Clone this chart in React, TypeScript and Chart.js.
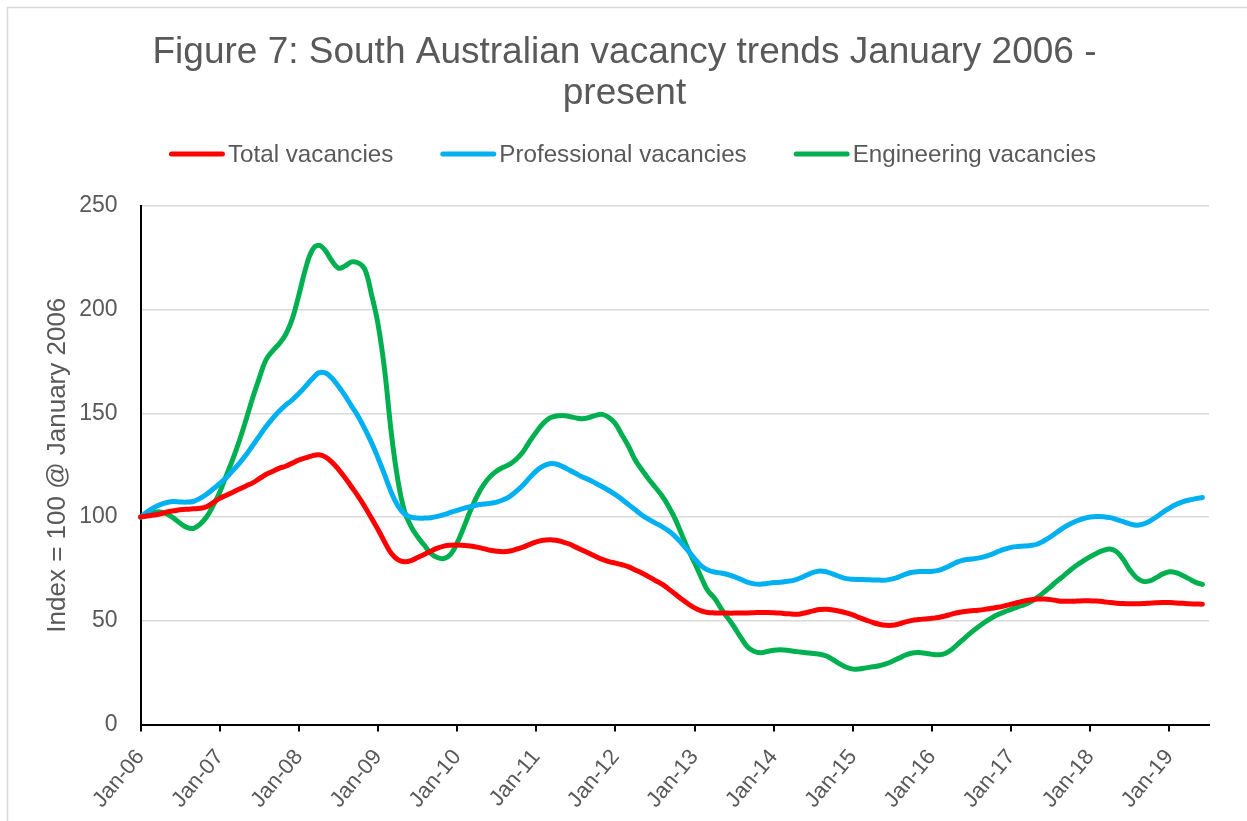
import React, { useEffect, useRef } from "react";
import { Chart, registerables } from "chart.js";

Chart.register(...registerables);

const TITLE_LINES = ["Figure 7: South Australian vacancy trends January 2006 -", "present"];
const Y_TITLE = "Index = 100 @ January 2006";
const SERIES_NAMES = ["Total vacancies", "Professional vacancies", "Engineering vacancies"];
const SERIES_COLORS = ["#FF0000", "#00B0F0", "#00B050"];

const MONTHS = ["Jan", "Feb", "Mar", "Apr", "May", "Jun", "Jul", "Aug", "Sep", "Oct", "Nov", "Dec"];
const YEARS = ["06", "07", "08", "09", "10", "11", "12", "13", "14", "15", "16", "17", "18", "19"];
// Monthly categories Jan-06 .. Jul-19 (axis runs one month past the last observation)
const CATEGORIES: string[] = [];
YEARS.forEach((yy) => MONTHS.forEach((m) => CATEGORIES.push(`${m}-${yy}`)));
CATEGORIES.splice(163);

const Y_MIN = 0;
const Y_MAX = 250;
const Y_STEP = 50;

// Monthly index values, Jan-06 .. Jun-19
const TOTAL = [
  100, 100.5, 101, 101.5, 102.5, 103, 103.5, 103.8, 104, 104.2, 105, 107,
  109, 110.5, 112, 113.5, 115, 116.5, 118.5, 120.5, 122, 123.5, 124.5, 126,
  127.5, 128.5, 129.5, 130, 129, 126.5, 123, 119, 114.5, 110, 105, 99.5,
  94, 88, 82.5, 79.5, 78.5, 79, 80.5, 82, 83.5, 85, 86, 86.4,
  86.5, 86.3, 86, 85.5, 84.8, 84, 83.5, 83.3, 83.6, 84.5, 85.5, 86.8,
  88, 88.8, 89, 88.8, 88, 87, 85.5, 84, 82.5, 81, 79.6, 78.5,
  77.8, 77, 76, 74.5, 73, 71.3, 69.5, 67.8, 65.5, 63, 60.5, 58.2,
  56.2, 54.8, 54, 53.8, 53.8, 53.7, 53.7, 53.8, 53.8, 53.9, 54, 54,
  53.9, 53.7, 53.4, 53.2, 53.3, 54, 54.8, 55.4, 55.5, 55.2, 54.6, 53.8,
  52.8, 51.5, 50.3, 49.2, 48.3, 47.8, 47.8, 48.5, 49.5, 50.2, 50.6, 50.9,
  51.2, 51.6, 52.3, 53.2, 54, 54.5, 54.8, 55.1, 55.5, 56, 56.5, 57.2,
  58, 58.8, 59.6, 60.1, 60.5, 60.5, 60.2, 59.7, 59.4, 59.4, 59.5, 59.6,
  59.6, 59.5, 59.2, 58.8, 58.5, 58.3, 58.2, 58.2, 58.3, 58.5, 58.7, 58.8,
  58.8, 58.6, 58.4, 58.2, 58.1, 58,
];

const PROFESSIONAL = [
  100, 102.5, 104.5, 106, 107, 107.5, 107.3, 107.2, 107.5, 109, 111, 113.5,
  116.2, 119, 122.5, 126, 130, 134.5, 139, 143.5, 147.5, 151, 154, 156.5,
  159.5, 163, 166.5, 169.5, 169.5, 167, 163, 158.5, 153.5, 148.5, 142.5, 136,
  128.5, 120.5, 112, 105.5, 101.5, 100, 99.5, 99.5, 99.7, 100.3, 101.2, 102.2,
  103.2, 104.2, 105, 105.8, 106.3, 106.6, 107.2, 108.3, 110, 112.5, 115.5, 119,
  122.2, 124.5, 125.7, 125.6, 124.3, 122.7, 121, 119.3, 118, 116.3, 114.6, 112.8,
  110.8, 108.5, 106, 103.5, 101, 99, 97.2, 95.5, 93.5, 90.8, 87.5, 83.8,
  80, 76.5, 74.5, 73.5, 73, 72.3, 71.3, 70, 68.6, 67.8, 67.6, 68,
  68.4, 68.6, 69, 69.5, 70.6, 72, 73.3, 74, 73.6, 72.5, 71.3, 70.3,
  70, 69.9, 69.8, 69.7, 69.6, 69.6, 70.2, 71.2, 72.5, 73.4, 73.7, 73.7,
  73.8, 74.3, 75.5, 77, 78.5, 79.4, 79.8, 80.2, 80.9, 82, 83.3, 84.5,
  85.4, 85.8, 86, 86.3, 87, 88.6, 90.5, 92.8, 95, 96.8, 98.2, 99.3,
  100, 100.3, 100.2, 99.7, 98.8, 97.8, 96.7, 96, 96.6, 98, 100, 102.3,
  104.3, 106, 107.3, 108.2, 108.9, 109.4,
];

const ENGINEERING = [
  100, 101.2, 102.2, 102.5, 101.5, 99.5, 97, 95, 94.5, 96.5, 100, 105.5,
  112, 120, 128, 137, 147, 157.5, 167, 175.7, 180, 183.5, 188, 195.5,
  207, 219.5, 228.5, 231, 228.5, 223.5, 220, 221, 223, 222.5, 219.5, 207.5,
  193, 171, 141, 118, 103, 95.5, 90.5, 86.5, 82.5, 80.5, 80, 82,
  87.5, 95, 103, 110, 115.5, 119.5, 122.2, 124, 125.5, 128, 131.5, 136.5,
  141, 145, 147.7, 148.7, 149, 148.5, 147.8, 147.4, 148, 149, 149.5, 148,
  145, 139.5, 134, 127.5, 122.8, 118.5, 114.5, 110.5, 105.5, 99.5, 92, 84.5,
  78, 71, 64.5, 61, 56, 51.5, 47, 42, 37.5, 35.3, 34.6, 35.2,
  35.8, 36, 35.8, 35.3, 35, 34.6, 34.2, 33.9, 33, 31.2, 29.3, 27.6,
  26.7, 26.8, 27.3, 27.8, 28.3, 29.2, 30.5, 32, 33.5, 34.5, 34.7, 34.3,
  33.8, 33.6, 34.2, 36.2, 39, 41.8, 44.5, 47, 49.3, 51.3, 53, 54.3,
  55.5, 56.7, 57.8, 59.3, 61.3, 63.8, 66.5, 69.2, 71.8, 74.5, 76.9, 79,
  80.9, 82.6, 83.9, 84.6, 83.2, 79.5, 74.5, 70.8, 69, 69.2, 70.8, 72.6,
  73.6, 73.2, 71.8, 70.2, 68.5, 67.5,
];

const SERIES_VALUES = [TOTAL, PROFESSIONAL, ENGINEERING];

const FONT = "'Liberation Sans', Arial, sans-serif";
const TEXT = "#595959";

const frame = {
  id: "frame",
  beforeDraw(chart: any) {
    const { ctx, width, height } = chart;
    ctx.save();
    ctx.fillStyle = "#ffffff";
    ctx.fillRect(0, 0, width, height);
    ctx.strokeStyle = "#D9D9D9";
    ctx.lineWidth = 1.5;
    ctx.strokeRect(7.5, 7.5, width + 20, height + 20);
    ctx.restore();
  },
};

// Legend drawn as line samples with text, in the band between title and plot
const lineLegend = {
  id: "lineLegend",
  afterDraw(chart: any) {
    const { ctx, chartArea } = chart;
    const sample = 56;
    const textGap = 3;
    const itemGap = 47;
    ctx.save();
    ctx.font = `24.2px ${FONT}`;
    const items = chart.data.datasets.map((ds: any) => ({
      text: ds.label,
      color: ds.borderColor,
      w: ctx.measureText(ds.label).width,
    }));
    const total =
      items.reduce((a: number, it: any) => a + sample + textGap + it.w, 0) + itemGap * (items.length - 1);
    let x = chart.width / 2 + 9 - total / 2;
    const y = chartArea.top - 52;
    items.forEach((it: any) => {
      ctx.strokeStyle = it.color;
      ctx.lineWidth = 5;
      ctx.lineCap = "round";
      ctx.beginPath();
      ctx.moveTo(x + 2.5, y);
      ctx.lineTo(x + sample - 2.5, y);
      ctx.stroke();
      ctx.fillStyle = TEXT;
      ctx.textAlign = "left";
      ctx.textBaseline = "middle";
      ctx.fillText(it.text, x + sample + textGap, y + 1);
      x += sample + textGap + it.w + itemGap;
    });
    ctx.restore();
  },
};

export default function App() {
  const ref = useRef<HTMLCanvasElement | null>(null);

  useEffect(() => {
    if (!ref.current) return;
    const chart = new Chart(ref.current, {
      type: "line",
      data: {
        labels: CATEGORIES,
        datasets: SERIES_NAMES.map((name, i) => ({
          label: name,
          data: SERIES_VALUES[i],
          borderColor: SERIES_COLORS[i],
          backgroundColor: SERIES_COLORS[i],
          borderWidth: 5,
          pointRadius: 0,
          pointHoverRadius: 0,
          tension: 0.4,
          borderCapStyle: "round" as const,
          borderJoinStyle: "round" as const,
          fill: false,
        })),
      },
      options: {
        responsive: false,
        animation: false,
        layout: { padding: { top: 10, left: 40, right: 38, bottom: -5 } },
        plugins: {
          tooltip: { enabled: false },
          legend: { display: false },
          title: {
            display: true,
            text: TITLE_LINES,
            color: TEXT,
            font: { family: FONT, size: 37, weight: "normal", lineHeight: 1.12 },
            padding: { top: 22, bottom: 91 },
          },
        },
        scales: {
          x: {
            type: "category",
            grid: {
              drawOnChartArea: false,
              drawTicks: true,
              tickLength: 7,
              lineWidth: 2,
              tickColor: (ctx: any) => (ctx.index % 12 === 0 ? "#000000" : "rgba(0,0,0,0)"),
              color: "rgba(0,0,0,0)",
            },
            border: { display: true, color: "#000000", width: 2 },
            ticks: {
              autoSkip: false,
              minRotation: 50,
              maxRotation: 50,
              padding: 13,
              color: TEXT,
              font: { family: FONT, size: 22 },
              callback: (_v: any, idx: number) => (idx % 12 === 0 ? CATEGORIES[idx] : ""),
            },
          },
          y: {
            min: Y_MIN,
            max: Y_MAX,
            grid: { color: "#D9D9D9", lineWidth: 1.5, drawTicks: false },
            border: { display: true, color: "#000000", width: 2 },
            ticks: {
              stepSize: Y_STEP,
              padding: 23,
              color: TEXT,
              font: { family: FONT, size: 23 },
            },
            title: {
              display: true,
              text: Y_TITLE,
              color: TEXT,
              font: { family: FONT, size: 26 },
              padding: { top: 2, bottom: -17 },
            },
          },
        },
      },
      plugins: [frame, lineLegend],
    });
    return () => chart.destroy();
  }, []);

  return (
    <div style={{ position: "fixed", left: 0, top: 0, width: 1247, height: 821, background: "#fff" }}>
      <canvas ref={ref} width={1247} height={821} style={{ display: "block" }} />
    </div>
  );
}
